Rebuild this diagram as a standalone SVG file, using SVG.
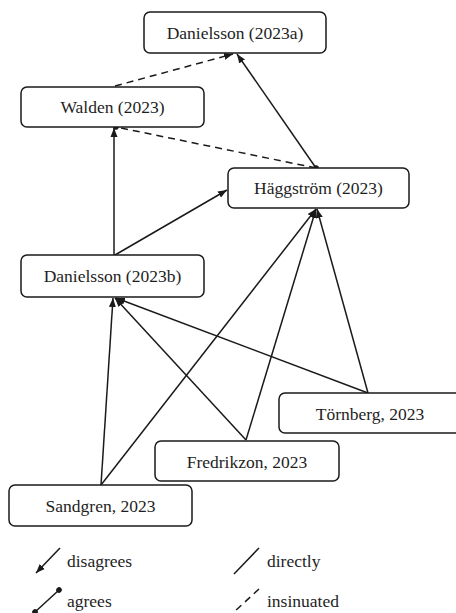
<svg xmlns="http://www.w3.org/2000/svg" width="456" height="613" viewBox="0 0 456 613">
<style>
.box{fill:#fff;stroke:#1a1a1a;stroke-width:1.5}
.lbl{font-family:"Liberation Serif","Times New Roman",serif;font-size:17.5px;fill:#1e1e1e;text-anchor:middle}
.leg{font-family:"Liberation Serif","Times New Roman",serif;font-size:17.5px;fill:#1e1e1e}
.e{fill:none;stroke:#1a1a1a;stroke-width:1.5}
.d{stroke-dasharray:7 5}
</style>
<defs>
<marker id="arr" markerUnits="userSpaceOnUse" markerWidth="10" markerHeight="8" refX="9" refY="4" orient="auto">
<path d="M0,0.5 L9,4 L0,7.5 Z" fill="#1a1a1a"/>
</marker>
<marker id="dot" markerUnits="userSpaceOnUse" markerWidth="8" markerHeight="8" refX="4" refY="4" orient="auto">
<circle cx="4" cy="4" r="2.8" fill="#1a1a1a"/>
</marker>
</defs>
<rect width="456" height="613" fill="#fff"/>
<g id="connectors">
<line class="e d" x1="115" y1="86" x2="233" y2="54" marker-end="url(#arr)"/>
<line class="e" x1="316" y1="168" x2="237" y2="54" marker-end="url(#arr)"/>
<line class="e d" x1="316" y1="168" x2="116" y2="127" marker-start="url(#dot)" marker-end="url(#dot)"/>
<line class="e" x1="114" y1="255" x2="114" y2="128" marker-end="url(#arr)"/>
<line class="e" x1="115" y1="255" x2="227" y2="190" marker-end="url(#arr)"/>
<line class="e" x1="101" y1="485" x2="113" y2="298" marker-end="url(#arr)"/>
<line class="e" x1="101" y1="485" x2="316" y2="209" marker-end="url(#arr)"/>
<line class="e" x1="246" y1="440" x2="115" y2="298" marker-end="url(#arr)"/>
<line class="e" x1="246" y1="440" x2="316" y2="209" marker-end="url(#arr)"/>
<line class="e" x1="368" y1="393" x2="116" y2="298" marker-end="url(#arr)"/>
<line class="e" x1="368" y1="393" x2="317" y2="209" marker-end="url(#arr)"/>
</g>
<g id="n-danielsson-2023a"><rect class="box" x="144" y="12" width="182" height="41" rx="6"/><text class="lbl" x="235" y="38.5">Danielsson (2023a)</text></g>
<g id="n-walden"><rect class="box" x="21" y="87" width="183" height="40" rx="6"/><text class="lbl" x="112.5" y="113">Walden (2023)</text></g>
<g id="n-haggstrom"><rect class="box" x="228" y="168" width="181" height="40" rx="6"/><text class="lbl" x="318.5" y="194">Häggström (2023)</text></g>
<g id="n-danielsson-2023b"><rect class="box" x="21" y="255" width="183" height="42" rx="6"/><text class="lbl" x="112.5" y="282">Danielsson (2023b)</text></g>
<g id="n-tornberg"><rect class="box" x="279" y="393" width="182" height="40" rx="6"/><text class="lbl" x="370" y="419.5">Törnberg, 2023</text></g>
<g id="n-fredrikzon"><rect class="box" x="155" y="441" width="184" height="40" rx="6"/><text class="lbl" x="247" y="467.5">Fredrikzon, 2023</text></g>
<g id="n-sandgren"><rect class="box" x="9" y="485" width="183" height="41" rx="6"/><text class="lbl" x="100.5" y="511.5">Sandgren, 2023</text></g>
<g id="legend">
<line class="e" x1="60" y1="548" x2="36" y2="573" marker-end="url(#arr)"/>
<text class="leg" x="67" y="567">disagrees</text>
<line class="e" x1="259" y1="548" x2="234" y2="574"/>
<text class="leg" x="267" y="567">directly</text>
<line class="e" x1="59" y1="590" x2="35" y2="612" marker-start="url(#dot)" marker-end="url(#dot)"/>
<text class="leg" x="67" y="607">agrees</text>
<line class="e d" x1="259" y1="589" x2="234" y2="612"/>
<text class="leg" x="267" y="607">insinuated</text>
</g>
</svg>
